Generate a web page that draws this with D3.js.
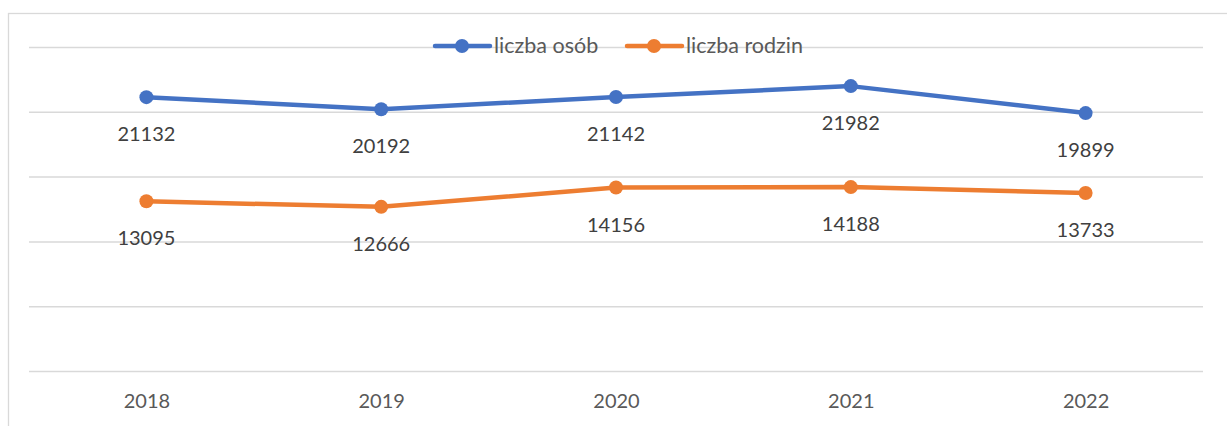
<!DOCTYPE html>
<html><head><meta charset="utf-8">
<script src="https://cdn.jsdelivr.net/npm/d3@7"></script>
<style>html,body{margin:0;padding:0;background:#fff;}svg{display:block;}</style>
</head><body>
<svg id="chart" width="1227" height="426"></svg>
<script>
const years = ["2018","2019","2020","2021","2022"];
const osob = [21132, 20192, 21142, 21982, 19899];
const rodzin = [13095, 12666, 14156, 14188, 13733];
const yTicks = [0, 5000, 10000, 15000, 20000, 25000];
const seriesNames = ["liczba osób", "liczba rodzin"];
const colors = ["#4472C4", "#ED7D31"];

(function () {
const svg = d3.select("#chart");
const font = "Lato, 'Open Sans', sans-serif";
const mLeft = 29, mRight = 1203, mTop = 47, mBottom = 371;

svg.append("rect").attr("x", 8.5).attr("y", 13.5).attr("width", 1240).attr("height", 430)
  .attr("fill", "none").attr("stroke", "#d9d9d9").attr("stroke-width", 1.3);

const x = d3.scalePoint().domain(years).range([mLeft, mRight]).padding(0.5);
const y = d3.scaleLinear().domain([0, 25000]).range([mBottom, mTop]);

const grid = svg.append("g").attr("transform", `translate(${mLeft},0)`)
  .call(d3.axisLeft(y).tickValues(yTicks).tickSize(-(mRight - mLeft)).tickFormat(""));
grid.select(".domain").remove();
grid.selectAll(".tick line").attr("stroke", "#d9d9d9").attr("stroke-width", 1.5);

const xa = svg.append("g").attr("transform", `translate(0,${mBottom})`)
  .call(d3.axisBottom(x).tickSize(0).tickPadding(23));
xa.select(".domain").remove();
xa.selectAll("text").attr("font-family", font).attr("font-size", 20).attr("fill", "#595959");

const series = [osob, rodzin];
series.forEach((vals, i) => {
  const data = years.map((yr, j) => ({yr, v: vals[j]}));
  const line = d3.line().x(d => x(d.yr)).y(d => y(d.v));
  svg.append("path").datum(data).attr("d", line).attr("fill", "none")
    .attr("stroke", colors[i]).attr("stroke-width", 4.5).attr("stroke-linejoin", "round");
  svg.selectAll(null).data(data).enter().append("circle")
    .attr("cx", d => x(d.yr)).attr("cy", d => y(d.v)).attr("r", 7).attr("fill", colors[i]);
  svg.selectAll(null).data(data).enter().append("text")
    .attr("x", d => x(d.yr)).attr("y", d => y(d.v) + 44)
    .attr("text-anchor", "middle").attr("font-family", font).attr("font-size", 20)
    .attr("fill", "#404040").text(d => d.v);
});

const legendX = [435, 627];
seriesNames.forEach((name, i) => {
  const g = svg.append("g").attr("transform", `translate(${legendX[i]},46)`);
  g.append("line").attr("x1", 0).attr("x2", 55).attr("y1", 0).attr("y2", 0)
    .attr("stroke", colors[i]).attr("stroke-width", 4.5).attr("stroke-linecap", "round");
  g.append("circle").attr("cx", 27).attr("cy", 0).attr("r", 7).attr("fill", colors[i]);
  g.append("text").attr("x", 59).attr("y", 7).attr("font-family", font).attr("font-size", 21.5)
    .attr("fill", "#595959").text(name);
});
})();
</script>
</body></html>
